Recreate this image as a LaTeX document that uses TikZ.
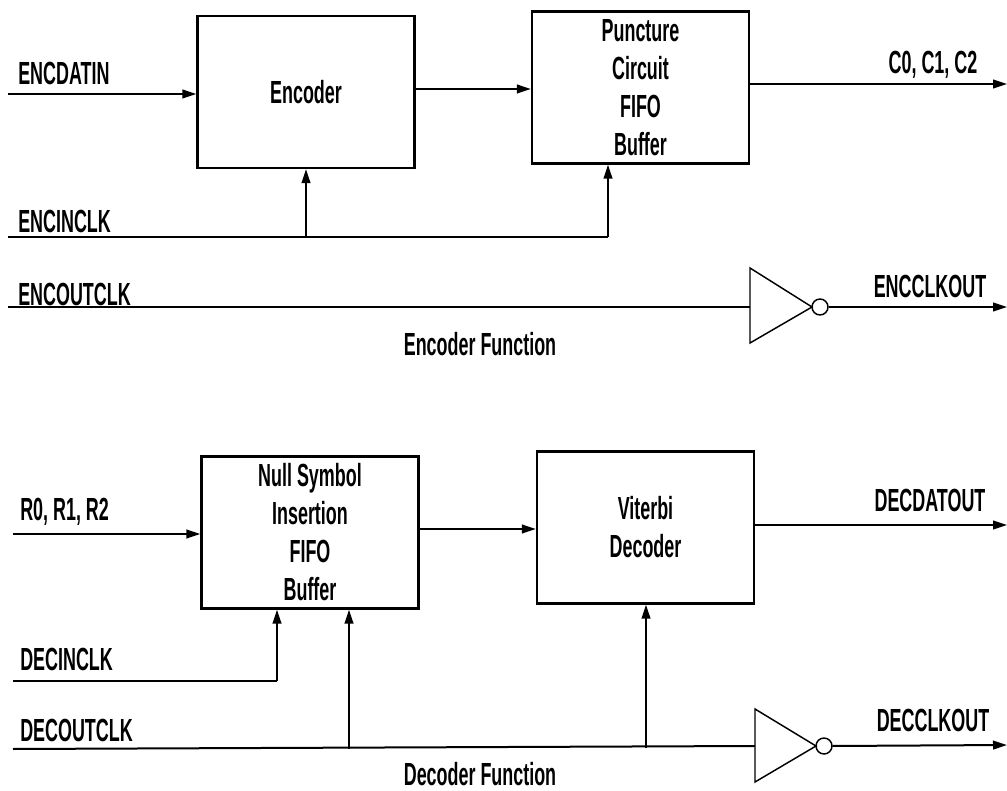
\documentclass[tikz,border=0pt]{standalone}
\usepackage{fontspec}
\setmainfont{Liberation Sans}[FakeStretch=0.56]
\usetikzlibrary{arrows.meta}
\begin{document}
\begin{tikzpicture}[x=0.75pt,y=-0.75pt,
  lbl/.style={font=\fontsize{24}{28.5}\selectfont\bfseries, inner sep=0pt},
  blk/.style={draw, line width=1.7pt, minimum width=162.75pt, minimum height=114pt, inner sep=0pt, align=center, font=\fontsize{24}{28.5}\selectfont\bfseries},
  wire/.style={line width=1.5pt},
  arr/.style={wire, -{Triangle[length=10.5pt,width=6.5pt]}},
  bubble/.style={draw, circle, line width=1.1pt, minimum size=12pt, inner sep=0pt},
  gate/.style={line width=1.1pt}]
\useasboundingbox (0,0) rectangle (1007,791);

% ---------- Encoder section ----------
\node[blk] (enc) at (306,92) {Encoder};
\node[blk] (punct) at (640.5,87.5) {Puncture\\Circuit\\FIFO\\Buffer};

\coordinate (ein) at (8,94);
\coordinate (eout) at (1007,84);
\coordinate (eclk) at (8,237);
\coordinate (eclkend) at (608,237);
\coordinate (eoclk) at (8,307);
\coordinate (inv1) at (750,307);
\coordinate (inv1out) at (1007,307);

\node[lbl, anchor=west] (lencdatin) at (18,73) {ENCDATIN};
\node[lbl, anchor=west] (lencinclk) at (18,221) {ENCINCLK};
\node[lbl, anchor=west] (lencoutclk) at (18,294) {ENCOUTCLK};
\node[lbl] (lc) at (933,65) {C0, C1, C2};
\node[lbl] (lencclkout) at (930,286) {ENCCLKOUT};
\node[lbl] (lencfun) at (480,344) {Encoder Function};

\draw[arr] (ein) -- (ein -| enc.west);
\draw[arr] (enc.east |- 0,89) -- (punct.west |- 0,89);
\draw[arr] (punct.east |- eout) -- (eout);
\draw[wire] (eclk) -- (eclkend);
\draw[arr] (enc.south |- eclk) -- (enc.south);
\draw[arr] (eclkend) -- (eclkend |- punct.south);

\draw[gate] (750,268) -- (812,307) -- (750,343) -- cycle;
\node[bubble] (b1) at (820,307) {};
\draw[wire] (eoclk) -- (inv1);
\draw[arr] (b1.east) -- (inv1out);

% ---------- Decoder section ----------
\node[blk] (nullb) at (310,532.5) {Null Symbol\\Insertion\\FIFO\\Buffer};
\node[blk] (vit) at (645.5,527.5) {Viterbi\\Decoder};

\coordinate (din) at (13,534);
\coordinate (dout) at (1007,525);
\coordinate (dclk) at (13,681);
\coordinate (dclkend) at (277,681);
\coordinate (doclk) at (13,749);
\coordinate (inv2) at (755,746);
\coordinate (inv2out) at (1007,745);
\coordinate (br1) at (349,749);
\coordinate (br2) at (646,748);

\node[lbl, anchor=west] (lr) at (20,512) {R0, R1, R2};
\node[lbl, anchor=west] (ldecinclk) at (20,659) {DECINCLK};
\node[lbl, anchor=west] (ldecoutclk) at (20,730) {DECOUTCLK};
\node[lbl] (ldecdatout) at (930,500) {DECDATOUT};
\node[lbl] (ldecclkout) at (933,720) {DECCLKOUT};
\node[lbl] (ldecfun) at (480,774) {Decoder Function};

\draw[arr] (din) -- (din -| nullb.west);
\draw[arr] (nullb.east |- 0,529) -- (vit.west |- 0,529);
\draw[arr] (vit.east |- dout) -- (dout);
\draw[wire] (dclk) -- (dclkend);
\draw[arr] (dclkend) -- (dclkend |- nullb.south);
\draw[wire] (doclk) -- (inv2);
\draw[arr] (br1) -- (br1 |- nullb.south);
\draw[arr] (br2) -- (br2 |- vit.south);

\draw[gate] (755,709) -- (816,746) -- (755,782) -- cycle;
\node[bubble] (b2) at (824,746) {};
\draw[arr] (b2.east) -- (inv2out);
\end{tikzpicture}
\end{document}
